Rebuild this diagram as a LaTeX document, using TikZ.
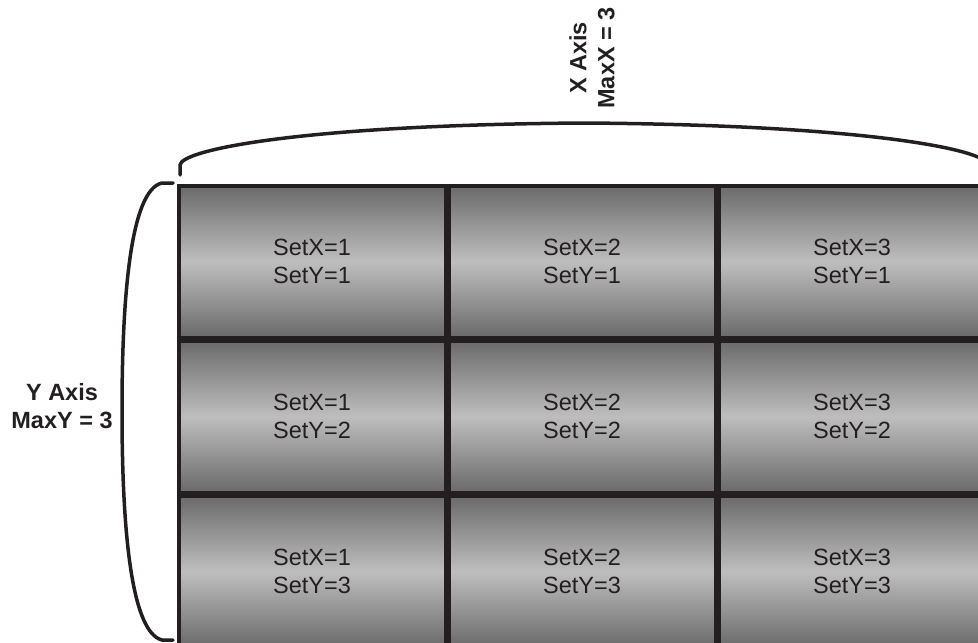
\documentclass[tikz,border=0pt]{standalone}
\usepackage{fontspec}
\setmainfont{Liberation Sans}
\usepackage{tikz}

\definecolor{ink}{HTML}{231F20}
\definecolor{celldark}{HTML}{6A6A6A}
\definecolor{celllight}{HTML}{BEBEBE}

\begin{document}
\begin{tikzpicture}[x=0.5pt,y=-0.5pt,
		cell/.style={draw=ink,line width=1.75pt,top color=celldark,bottom color=celldark,middle color=celllight,
			minimum width=133.25pt,minimum height=75.75pt,inner sep=0pt,align=center,text=ink,
			font=\fontsize{11.75}{14}\selectfont},
		axislabel/.style={align=center,text=ink,font=\fontsize{11.75}{14}\selectfont\bfseries},
		brace/.style={draw=ink,line width=1.75pt,line cap=round}]
	\useasboundingbox (0,0) rectangle (978,642);
	\clip (0,0) rectangle (978,642);
	% 3 x 3 grid of sets
	\foreach \x in {1,2,3}
	\foreach \y in {1,2,3}
	\node[cell] (c-\x-\y) at ({177+270*\x-135},{184+155*\y-77.5}) {SetX=\x\\SetY=\y};
	% braces
	\draw[brace] (180,175) -- (180,165) .. controls (181,150) and (300,125) .. (584,123)
		.. controls (868,125) and (987,150) .. (988,165) -- (988,175);
	\draw[brace] (173,183) -- (162,183) .. controls (130,190) and (122,300) .. (122,411)
		.. controls (122,522) and (130,632) .. (162,640) -- (173,640);
	% axis labels
	\node[axislabel,rotate=90] (xlabel) at (592,58) {X Axis\\MaxX = 3};
	\node[axislabel] (ylabel) at (62,406) {Y Axis\\MaxY = 3};
\end{tikzpicture}
\end{document}
